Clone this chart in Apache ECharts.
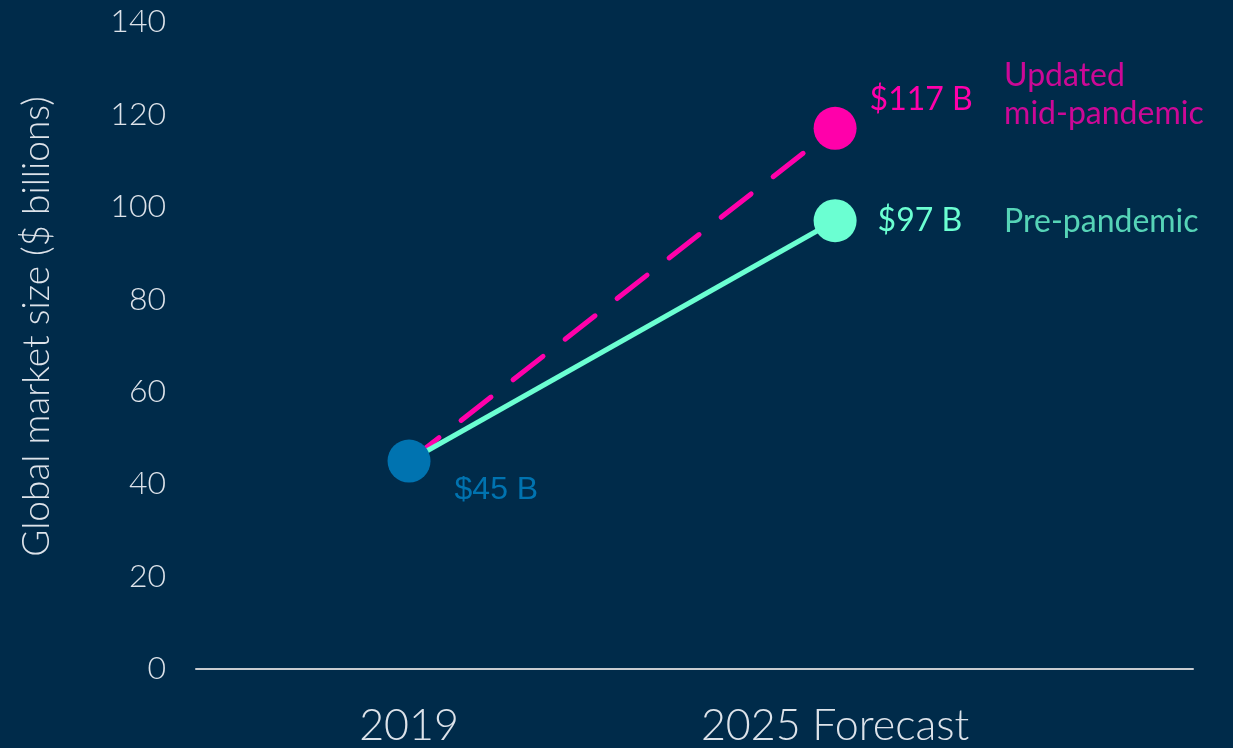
<!DOCTYPE html>
<html>
<head>
<meta charset="utf-8">
<script src="https://cdn.jsdelivr.net/npm/echarts@6/dist/echarts.min.js"></script>
<style>
html,body{margin:0;padding:0;background:#002b4a;}
#Chart{width:1233px;height:748px;}
</style>
</head>
<body>
<div id="Chart"></div>
<script>
// 数据
var categories=["2019","2025 Forecast"]
var baseValue=[45]
var preValues=[45,97]
var midValues=[45,117]
var yTicks=[0,20,40,60,80,100,120,140]

var bg="#002b4a",pink="#ff00aa",aqua="#6bffd2",blue="#0073b0",txt="#dde3ea"

function drawChar(){
    var myChart=echarts.init(document.getElementById('Chart'))
    var pre=[],mid=[]
    $each(preValues,function(i,v){pre.push([i,v])})
    $each(midValues,function(i,v){mid.push([i,v])})
    var option={
        backgroundColor:bg,
        animation:false,
        grid:{left:196,right:40,top:22,bottom:76,containLabel:false},
        xAxis:{
            type:'value',
            min:-0.5,
            max:1.84,
            interval:0.5,
            axisLine:{show:true,lineStyle:{color:'#c8ccd0',width:2}},
            axisTick:{show:false},
            splitLine:{show:false},
            axisLabel:{
                color:txt,
                fontFamily:'Lato',
                fontWeight:300,
                fontSize:43,
                margin:36,
                showMaxLabel:false,
                formatter:function(v){
                    return Math.abs(v-Math.round(v))<1e-6&&categories[Math.round(v)]?categories[Math.round(v)]:''
                }
            }
        },
        yAxis:{
            type:'value',
            min:yTicks[0],
            max:yTicks[yTicks.length-1],
            interval:20,
            axisLine:{show:false},
            axisTick:{show:false},
            splitLine:{show:false},
            axisLabel:{color:txt,fontFamily:'Lato',fontWeight:300,fontSize:32,margin:30},
            name:'Global market size ($ billions)',
            nameLocation:'middle',
            nameGap:140,
            nameTextStyle:{color:txt,fontFamily:'Lato',fontWeight:300,fontSize:37,padding:[0,0,0,38]}
        },
        series:[
            {
                type:'line',
                data:mid,
                symbol:'circle',
                symbolSize:function(v,p){return p.dataIndex==1?43:0},
                itemStyle:{color:pink},
                lineStyle:{color:pink,width:5,type:[38,28],cap:'round'},
                label:{
                    show:true,
                    formatter:function(p){return p.dataIndex==1?'$'+p.value[1]+' B':''},
                    position:'right',
                    distance:13,
                    offset:[0,-29],
                    color:pink,
                    fontFamily:'Lato',
                    fontSize:32
                },
                z:2
            },
            {
                type:'line',
                data:pre,
                symbol:'circle',
                symbolSize:function(v,p){return p.dataIndex==1?43:0},
                itemStyle:{color:aqua},
                lineStyle:{color:aqua,width:5},
                label:{
                    show:true,
                    formatter:function(p){return p.dataIndex==1?'$'+p.value[1]+' B':''},
                    position:'right',
                    distance:21,
                    color:aqua,
                    fontFamily:'Lato',
                    fontSize:32
                },
                z:3
            },
            {
                type:'scatter',
                data:[[0,baseValue[0]]],
                symbolSize:43,
                itemStyle:{color:blue,opacity:1},
                label:{
                    show:true,
                    formatter:function(p){return '$'+p.value[1]+' B'},
                    position:'right',
                    distance:24,
                    offset:[0,29],
                    color:blue,
                    fontFamily:'Liberation Sans',
                    fontSize:32
                },
                z:4
            },
            {
                type:'scatter',
                data:[[1,midValues[1]]],
                symbolSize:0,
                silent:true,
                label:{
                    show:true,
                    formatter:'Updated\nmid-pandemic',
                    position:'right',
                    distance:0,
                    offset:[169,-34],
                    align:'left',
                    color:pink,
                    fontFamily:'Lato',
                    fontSize:32,
                    lineHeight:38
                }
            },
            {
                type:'scatter',
                data:[[1,preValues[1]]],
                symbolSize:0,
                silent:true,
                label:{
                    show:true,
                    formatter:'Pre-pandemic',
                    position:'right',
                    distance:0,
                    offset:[169,1],
                    align:'left',
                    color:aqua,
                    fontFamily:'Lato',
                    fontSize:32
                }
            }
        ]
    }
    myChart.setOption(option)
}

function $each(arr,fn){for(var i=0;i<arr.length;i++)fn(i,arr[i])}

drawChar()
</script>
</body>
</html>
